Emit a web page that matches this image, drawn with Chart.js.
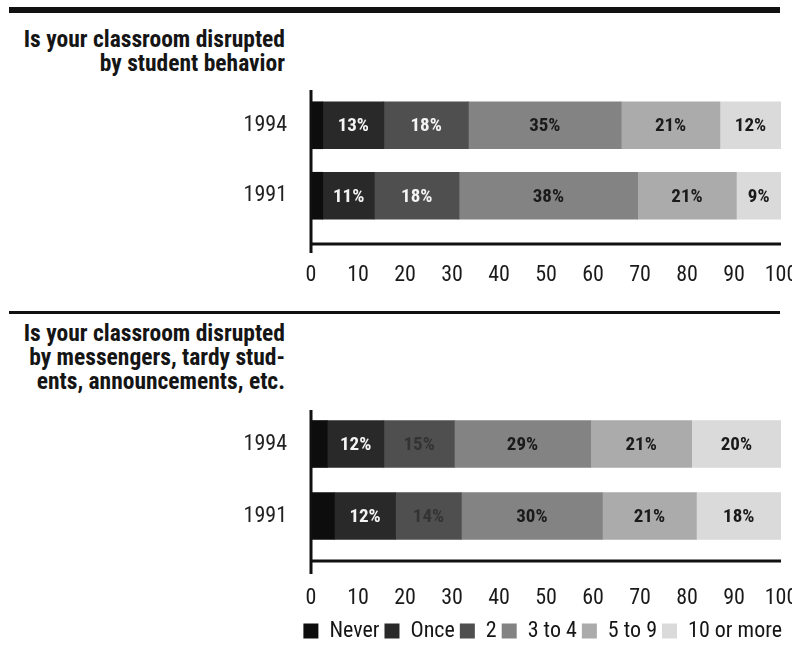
<!DOCTYPE html>
<html>
<head>
<meta charset="utf-8">
<script src="https://cdn.jsdelivr.net/npm/chart.js@4.4.0/dist/chart.umd.min.js"></script>
<style>
body { margin: 0; background: #fff; overflow: hidden; width: 792px; height: 645px; position: relative;
  font-family: "Roboto Condensed", Roboto, sans-serif; font-stretch: condensed; }
.rule { position: absolute; left: 9px; width: 771px; background: #111; }
.q { position: absolute; right: 507px; text-align: right; font-weight: bold; font-size: 23.5px; line-height: 24px; color: #151515; white-space: nowrap; }
canvas { position: absolute; left: 0; }
</style>
</head>
<body>
<div class="rule" style="top:7px;height:6px"></div>
<div class="q" style="top:27px">Is your classroom disrupted<br>by student behavior</div>
<canvas id="behavior" width="792" height="220" style="top:80px"></canvas>
<div class="rule" style="top:311px;height:3px"></div>
<div class="q" style="top:321px">Is your classroom disrupted<br>by messengers, tardy stud-<br>ents, announcements, etc.</div>
<canvas id="interrupt" width="792" height="250" style="top:395px"></canvas>
<script>
const years = ['1994', '1991'];
const seriesNames = ['Never', 'Once', '2', '3 to 4', '5 to 9', '10 or more'];
const seriesColors = ['#0d0d0d', '#292929', '#4f4f4f', '#838383', '#ababab', '#dadada'];
const xTicks = [0, 10, 20, 30, 40, 50, 60, 70, 80, 90, 100];

// bar lengths as drawn, one value per series
const behavior1994 = [2.5, 13, 18, 32.5, 21, 13];
const behavior1991 = [2.5, 11, 18, 38, 21, 9.5];
const interrupt1994 = [3.5, 12, 15, 29, 21.5, 19];
const interrupt1991 = [5, 13, 14, 30, 20, 18];

// printed percentages
const behaviorText1994 = ['', '13%', '18%', '35%', '21%', '12%'];
const behaviorText1991 = ['', '11%', '18%', '38%', '21%', '9%'];
const interruptText1994 = ['', '12%', '15%', '29%', '21%', '20%'];
const interruptText1991 = ['', '12%', '14%', '30%', '21%', '18%'];

const FONT = '"Roboto Condensed", Roboto, sans-serif';

const axisLines = {
  id: 'axisLines',
  afterDraw(chart, args, opts) {
    const { ctx, chartArea, scales } = chart;
    const left = scales.x.getPixelForValue(0);
    const right = scales.x.getPixelForValue(100);
    const yAxis = chartArea.bottom + opts.gap;
    ctx.save();
    ctx.strokeStyle = '#111';
    ctx.lineWidth = 3;
    ctx.beginPath();
    ctx.moveTo(left, chartArea.top + opts.rise);
    ctx.lineTo(left, yAxis + opts.drop);
    ctx.moveTo(left, yAxis);
    ctx.lineTo(right, yAxis);
    ctx.stroke();
    ctx.restore();
  }
};

const segmentText = {
  id: 'segmentText',
  afterDatasetsDraw(chart, args, opts) {
    const ctx = chart.ctx;
    ctx.save();
    ctx.font = 'condensed bold 19px ' + FONT;
    ctx.textAlign = 'center';
    ctx.textBaseline = 'middle';
    chart.data.datasets.forEach((ds, i) => {
      chart.getDatasetMeta(i).data.forEach((bar, j) => {
        const t = opts.texts[j][i];
        if (!t) return;
        ctx.fillStyle = opts.colors[i];
        ctx.fillText(t, (bar.x + bar.base) / 2, bar.y + 1);
      });
    });
    ctx.restore();
  }
};

function makeChart(id, rows, texts, textColors, cfg) {
  const datasets = seriesNames.map((name, i) => ({
    label: name,
    data: rows.map(r => r[i]),
    backgroundColor: seriesColors[i],
    borderWidth: 0,
    barThickness: 47
  }));
  return new Chart(document.getElementById(id), {
    type: 'bar',
    data: { labels: years, datasets: datasets },
    plugins: [axisLines, segmentText],
    options: {
      indexAxis: 'y',
      responsive: false,
      animation: false,
      devicePixelRatio: 1,
      layout: { padding: { top: cfg.top, left: 0, right: 5, bottom: cfg.bottom } },
      scales: {
        x: {
          stacked: true, min: 0, max: 100,
          afterBuildTicks: s => { s.ticks = xTicks.map(v => ({ value: v })); },
          afterFit: s => { s.height = cfg.xHeight; s.paddingRight = 11; s.paddingLeft = 0; },
          grid: { display: false, drawTicks: false },
          border: { display: false },
          ticks: { padding: cfg.tickPad, color: '#1a1a1a', font: { family: FONT, size: 22, weight: 'condensed' } }
        },
        y: {
          stacked: true,
          afterFit: s => { s.width = 311; s.paddingTop = 0; s.paddingBottom = 0; },
          grid: { display: false, drawTicks: false },
          border: { display: false },
          ticks: { padding: 24, color: '#222', font: { family: FONT, size: 22, weight: 'condensed' } }
        }
      },
      plugins: {
        tooltip: { enabled: false },
        legend: {
          display: cfg.legend,
          position: 'bottom',
          align: 'end',
          labels: { boxWidth: 15, boxHeight: 15, padding: 5, color: '#151515', font: { family: FONT, size: 22, weight: 'condensed' } }
        },
        axisLines: { gap: cfg.gap, drop: cfg.drop, rise: cfg.rise },
        segmentText: { texts: texts, colors: textColors }
      }
    }
  });
}

makeChart('behavior', [behavior1994, behavior1991], [behaviorText1994, behaviorText1991],
  ['#fff', '#f4f4f4', '#f4f4f4', '#1a1a1a', '#1a1a1a', '#1a1a1a'],
  { top: 10, bottom: 0, xHeight: 69, tickPad: 31, gap: 13, drop: 9, rise: 0, legend: false });

makeChart('interrupt', [interrupt1994, interrupt1991], [interruptText1994, interruptText1991],
  ['#fff', '#f4f4f4', '#333', '#1a1a1a', '#1a1a1a', '#1a1a1a'],
  { top: 13, bottom: -7, xHeight: 63, tickPad: 33, gap: 9, drop: 13, rise: 2, legend: true });
</script>
</body>
</html>
